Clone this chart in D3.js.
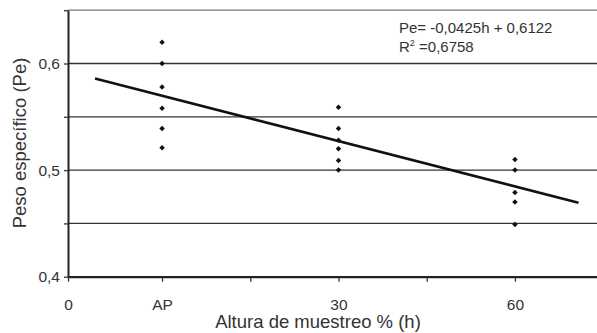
<!DOCTYPE html>
<html>
<head>
<meta charset="utf-8">
<script src="https://cdn.jsdelivr.net/npm/d3@7"></script>
<style>
  html, body { margin: 0; padding: 0; background: #fff; }
  svg { display: block; font-family: "Liberation Sans", Arial, sans-serif; }
</style>
</head>
<body>
<div id="chart"></div>
<script>
// categories along the x axis and their h position (h = 1, 2, 3)
const categories = ['AP', '30', '60'];
const hValues = [1, 2, 3];

// peso especifico readings per category
const apValues = [0.62, 0.60, 0.578, 0.558, 0.539, 0.521];
const h30Values = [0.559, 0.539, 0.528, 0.52, 0.509, 0.50];
const h60Values = [0.51, 0.50, 0.479, 0.47, 0.449];

// linear trend: Pe = -0,0425h + 0,6122
const trendSlope = -0.0425;
const trendIntercept = 0.6122;
const trendRange = [0.62, 3.36];

// axes
const xStart = 0.467;
const xTickValues = [xStart, 1, 1.5, 2, 2.5, 3];
const xTickLabels = ['0', 'AP', '', '30', '', '60'];
const yTickValues = [0.4, 0.45, 0.5, 0.55, 0.6, 0.65];
const yTickLabels = ['0,4', '', '0,5', '', '0,6', ''];
const gridValues = [0.45, 0.5, 0.55, 0.6, 0.65];

const width = 597, height = 333;
const margin = { top: 10, right: 0, bottom: 56, left: 68 };

const svg = d3.select('#chart')
  .append('svg')
  .attr('width', width)
  .attr('height', height);

const x = d3.scaleLinear()
  .domain([xStart, 3.465])
  .range([margin.left, width - margin.right]);

const y = d3.scaleLinear()
  .domain([0.4, 0.65])
  .range([height - margin.bottom - 0.3, margin.top + 0.2]);

// gridlines
svg.append('g')
  .selectAll('line')
  .data(gridValues)
  .enter()
  .append('line')
  .attr('x1', x(xStart))
  .attr('x2', width)
  .attr('y1', d => y(d))
  .attr('y2', d => y(d))
  .attr('stroke', d => d === 0.65 ? '#777' : '#333')
  .attr('stroke-width', 1.3);

// y axis
const yAxis = svg.append('g')
  .attr('transform', `translate(${x(xStart)},0)`)
  .call(d3.axisLeft(y)
    .tickValues(yTickValues)
    .tickFormat((d, i) => yTickLabels[i])
    .tickSize(4)
    .tickSizeOuter(0)
    .tickPadding(4));
yAxis.select('.domain').attr('stroke', '#222').attr('stroke-width', 2);
yAxis.selectAll('line').attr('stroke', '#333').attr('stroke-width', 1.3);
yAxis.selectAll('text')
  .attr('fill', '#333')
  .attr('font-size', '15.5px')
  .attr('font-family', '"Liberation Sans", Arial, sans-serif');

// x axis
const xAxis = svg.append('g')
  .attr('transform', `translate(0,${y(0.4)})`)
  .call(d3.axisBottom(x)
    .tickValues(xTickValues)
    .tickFormat((d, i) => xTickLabels[i])
    .tickSize(5)
    .tickSizeOuter(0)
    .tickPadding(17));
xAxis.select('.domain').attr('stroke', '#222').attr('stroke-width', 2.2);
xAxis.selectAll('line').attr('stroke', '#333').attr('stroke-width', 1.3);
xAxis.selectAll('text')
  .attr('fill', '#333')
  .attr('font-size', '15.5px')
  .attr('font-family', '"Liberation Sans", Arial, sans-serif');

// trend line
const trendData = trendRange.map(h => ({ h: h, v: trendSlope * h + trendIntercept }));
svg.append('path')
  .datum(trendData)
  .attr('fill', 'none')
  .attr('stroke', '#111')
  .attr('stroke-width', 2.6)
  .attr('d', d3.line().x(d => x(d.h)).y(d => y(d.v)));

// points
const points = [];
[apValues, h30Values, h60Values].forEach((vals, i) => {
  vals.forEach(v => points.push({ h: hValues[i], v: v, cat: categories[i] }));
});

svg.append('g')
  .selectAll('path')
  .data(points)
  .enter()
  .append('path')
  .attr('d', d3.symbol().type(d3.symbolSquare).size(15))
  .attr('transform', d => `translate(${x(d.h)},${y(d.v)}) rotate(45)`)
  .attr('fill', '#111');

// equation label
const eq = svg.append('text')
  .attr('x', 399)
  .attr('y', 33)
  .attr('fill', '#333')
  .attr('font-size', '15px');
eq.append('tspan').text('Pe= -0,0425h + 0,6122');
const r2 = svg.append('text')
  .attr('x', 399)
  .attr('y', 52)
  .attr('fill', '#333')
  .attr('font-size', '15px');
r2.append('tspan').text('R');
r2.append('tspan').attr('font-size', '9px').attr('dy', -6).text('2');
r2.append('tspan').attr('dy', 6).text(' =0,6758');

// axis titles
svg.append('text')
  .attr('x', 318)
  .attr('y', 328)
  .attr('text-anchor', 'middle')
  .attr('fill', '#333')
  .attr('font-size', '18.5px')
  .text('Altura de muestreo % (h)');

svg.append('text')
  .attr('transform', 'rotate(-90)')
  .attr('x', -143)
  .attr('y', 26)
  .attr('text-anchor', 'middle')
  .attr('fill', '#333')
  .attr('font-size', '18.5px')
  .text('Peso específico (Pe)');
</script>
</body>
</html>
